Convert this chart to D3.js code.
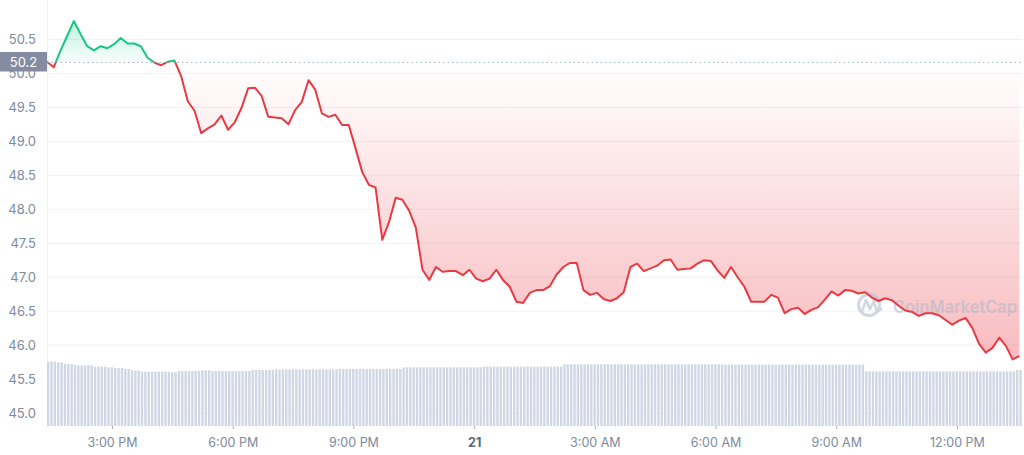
<!DOCTYPE html>
<html><head><meta charset="utf-8">
<script src="https://cdn.jsdelivr.net/npm/d3@7"></script>
<style>body{margin:0;background:#fff}svg{display:block;font-family:Inter,"Noto Sans",sans-serif}</style>
</head><body><svg id="c" width="1024" height="455"></svg>
<script>
// ---- data ----
const startTime = "2023-01-20T13:23:00";
const endTime = "2023-01-21T13:37:00";
const priceStepMinutes = 10;
const prices = [
50.17,50.09,50.33,50.55,50.77,50.58,50.40,50.34,50.40,50.37,
50.43,50.52,50.44,50.44,50.40,50.23,50.16,50.12,50.17,50.19,
49.96,49.59,49.45,49.12,49.19,49.25,49.38,49.17,49.28,49.49,
49.78,49.79,49.67,49.36,49.35,49.34,49.25,49.46,49.58,49.90,
49.76,49.41,49.36,49.39,49.24,49.24,48.90,48.55,48.36,48.32,
47.55,47.81,48.17,48.14,47.98,47.73,47.11,46.96,47.15,47.08,
47.09,47.09,47.03,47.11,46.98,46.94,46.98,47.11,46.96,46.86,
46.64,46.62,46.77,46.81,46.81,46.87,47.04,47.15,47.21,47.21,
46.81,46.74,46.77,46.68,46.65,46.69,46.78,47.15,47.20,47.09,
47.13,47.17,47.25,47.26,47.11,47.12,47.13,47.20,47.25,47.24,
47.10,46.99,47.15,47.00,46.86,46.64,46.64,46.64,46.74,46.70,
46.47,46.53,46.55,46.46,46.52,46.56,46.67,46.79,46.73,46.81,
46.80,46.76,46.78,46.70,46.65,46.69,46.66,46.58,46.51,46.49,
46.43,46.47,46.47,46.44,46.37,46.30,46.36,46.40,46.25,46.02,
45.89,45.96,46.11,45.99,45.79,45.84
];
const volumeStepMinutes = 5;
const volumes = [
96.5,96.5,96.5,95.5,95.5,93,93,93,91,91,
91,91,91,91,89,89,89,89,88,88,
87,87,87,85.5,85.5,83.5,83.5,83.5,81.5,81.5,
81.5,81.5,81.5,81.5,81.5,81.5,81.5,80.5,80.5,82.5,
82.5,82.5,82.5,82.5,82.5,82.5,83.5,83.5,83.5,82.5,
82.5,82.5,82.5,82.5,82.5,82.5,82.5,82.5,82.5,82.5,
82.5,84,84,84,84,84,84,84,85,85,
85,85,85,85,85,85,85,85,85,85,
85,85,85,85,85,85,85,85.5,85.5,85.5,
85.5,85.5,85.5,85.5,85.5,85.5,85.5,85.5,85.5,85.5,
85.5,85.5,85.5,85.5,85.5,85.5,88,88,88,88,
88,88,88,88,88,88,88,88,88,88,
88,88,88,88,88,88,88,88,88,88,
89,89,89,89,89,89,89,89,89,89,
89,89,89,89,89,89,89,89,89,89,
89,89,89,89,92.5,92.5,92.5,92.5,92.5,92.5,
92.5,92.5,92.5,92.5,92.5,92.5,92.5,92.5,92.5,92.5,
92.5,92.5,92.5,92.5,92.5,92.5,92.5,92.5,92.5,92.5,
92.5,92.5,92.5,92.5,92.5,92.5,92.5,92.5,92.5,92.5,
92.5,92.5,92.5,92.5,92.5,92.5,92.5,92.5,92.5,92.5,
92.5,92,92,92,92,92,92,92,92,92,
92,92,92,92,92,92,92,92,92,92,
92,92,92,92,92,92,92,92,92,92,
92,92,92,92,92,92,92,92,92,92,
92,92,92,92,82,82,82,82,82,82,
82,82,82,82,82,82,82,82,82,82,
82,82,82,82,82,82,82,82,82,82,
82,82,82,82,82,82,82,82,82,82,
82,82,82,82,82,82,82,82,82,84,
84
];
const referencePrice = 50.16;
const referenceLabel = "50.2";
const yTickValues = [45.0,45.5,46.0,46.5,47.0,47.5,48.0,48.5,49.0,49.5,50.0,50.5];
const yDomain = [44.81, 51.08];
const volumeDomain = [0, 150];
const xTickTimes = ["2023-01-20T15:00:00","2023-01-20T18:00:00","2023-01-20T21:00:00","2023-01-21T00:00:00",
                    "2023-01-21T03:00:00","2023-01-21T06:00:00","2023-01-21T09:00:00","2023-01-21T12:00:00"];
const xTickLabels = ["3:00 PM","6:00 PM","9:00 PM","21","3:00 AM","6:00 AM","9:00 AM","12:00 PM"];
const boldTickLabels = ["21"];

// ---- layout ----
const L = 47, R = 1022, T = 0, B = 426;
const RED = "#ea3943", GREEN = "#16c784";
const svg = d3.select("#c");
const t0 = new Date(startTime), t1 = new Date(endTime);
const x = d3.scaleTime().domain([t0, t1]).range([L, R]);
const y = d3.scaleLinear().domain(yDomain).range([B, T]);
const yVol = d3.scaleLinear().domain(volumeDomain).range([B, B - 100]);
const minute = 60000;
const priceData = prices.map((v, i) => ({t: new Date(+t0 + i * priceStepMinutes * minute), v}));
const volData = volumes.map((v, i) => ({t: new Date(+t0 + i * volumeStepMinutes * minute), v}));
const yRef = y(referencePrice);

const defs = svg.append("defs");
const gRed = defs.append("linearGradient").attr("id", "gRed").attr("gradientUnits", "userSpaceOnUse")
  .attr("x1", 0).attr("x2", 0).attr("y1", yRef).attr("y2", B);
gRed.append("stop").attr("offset", 0).attr("stop-color", RED).attr("stop-opacity", 0.0);
gRed.append("stop").attr("offset", 1).attr("stop-color", RED).attr("stop-opacity", 0.42);
const gGreen = defs.append("linearGradient").attr("id", "gGreen").attr("gradientUnits", "userSpaceOnUse")
  .attr("x1", 0).attr("x2", 0).attr("y1", 15).attr("y2", yRef);
gGreen.append("stop").attr("offset", 0).attr("stop-color", GREEN).attr("stop-opacity", 0.3);
gGreen.append("stop").attr("offset", 1).attr("stop-color", GREEN).attr("stop-opacity", 0.03);
defs.append("clipPath").attr("id", "above").append("rect").attr("x", 0).attr("y", 0).attr("width", 1024).attr("height", yRef);
defs.append("clipPath").attr("id", "below").append("rect").attr("x", 0).attr("y", yRef).attr("width", 1024).attr("height", 455 - yRef);

// gridlines
svg.append("g").selectAll("line").data(yTickValues).join("line")
  .attr("x1", L).attr("x2", R).attr("y1", d => y(d)).attr("y2", d => y(d))
  .attr("stroke", "#eff2f5").attr("stroke-width", 1);
svg.append("line").attr("x1", L + 0.5).attr("x2", L + 0.5).attr("y1", 0).attr("y2", B)
  .attr("stroke", "#eff2f5");

// volume bars
svg.append("g").selectAll("rect").data(volData).join("rect")
  .attr("x", d => x(d.t))
  .attr("width", d => Math.max(0.5, x(new Date(+d.t + volumeStepMinutes * minute)) - x(d.t) - 1))
  .attr("y", d => yVol(d.v))
  .attr("height", d => B - yVol(d.v))
  .attr("fill", "#d0d6e3");

// areas
const area = d3.area().x(d => x(d.t)).y0(yRef).y1(d => y(d.v));
svg.append("path").datum(priceData).attr("d", area).attr("fill", "url(#gGreen)").attr("clip-path", "url(#above)");
svg.append("path").datum(priceData).attr("d", area).attr("fill", "url(#gRed)").attr("clip-path", "url(#below)");

// reference dotted line
svg.append("line").attr("x1", L).attr("x2", R).attr("y1", yRef).attr("y2", yRef)
  .attr("stroke", "#a7b1c6").attr("stroke-width", 1).attr("stroke-dasharray", "1.5,3");

// watermark
const wm = svg.append("g").attr("opacity", 0.55);
wm.append("circle").attr("cx", 869).attr("cy", 305).attr("r", 10.5).attr("fill", "none")
  .attr("stroke", "#aeb8cc").attr("stroke-width", 3);
wm.append("path").attr("d", "M862,311 L866,300 L870,309 L874,301 L876,309 Q879,312 882,308")
  .attr("fill", "none").attr("stroke", "#aeb8cc").attr("stroke-width", 2.6).attr("stroke-linejoin", "round");
wm.append("text").attr("x", 893).attr("y", 313).attr("font-size", 17).attr("font-weight", 600)
  .attr("fill", "#aeb8cc").attr("textLength", 124).attr("lengthAdjust", "spacingAndGlyphs").text("CoinMarketCap");

// price line
const line = d3.line().x(d => x(d.t)).y(d => y(d.v));
svg.append("path").datum(priceData).attr("d", line).attr("fill", "none").attr("stroke", GREEN)
  .attr("stroke-width", 2).attr("stroke-linejoin", "round").attr("clip-path", "url(#above)");
svg.append("path").datum(priceData).attr("d", line).attr("fill", "none").attr("stroke", RED)
  .attr("stroke-width", 2).attr("stroke-linejoin", "round").attr("clip-path", "url(#below)");

// y axis
const yAxis = svg.append("g").attr("transform", `translate(${L},0)`)
  .call(d3.axisLeft(y).tickValues(yTickValues).tickFormat(d3.format(".1f")).tickSize(0).tickPadding(11));
yAxis.select(".domain").remove();
yAxis.selectAll("text").attr("font-size", 13).attr("fill", "#808a9d").attr("font-family", "Inter, sans-serif");

// reference label
svg.append("rect").attr("x", 0).attr("y", yRef - 10.5).attr("width", L).attr("height", 19.5).attr("fill", "#858ca2");
svg.append("text").attr("x", 23.5).attr("y", yRef).attr("dy", "0.36em").attr("text-anchor", "middle")
  .attr("font-size", 13).attr("fill", "#fff").text(referenceLabel);

// x axis
const tickDates = xTickTimes.map(s => new Date(s));
const xAxis = svg.append("g").attr("transform", `translate(0,${B})`)
  .call(d3.axisBottom(x).tickValues(tickDates).tickFormat((d, i) => xTickLabels[i]).tickSize(3).tickPadding(9));
xAxis.select(".domain").remove();
xAxis.selectAll("line").attr("stroke", "#a6b0c3");
xAxis.selectAll("text").attr("font-size", 12.5).attr("font-family", "Inter, sans-serif")
  .attr("fill", (d, i) => boldTickLabels.includes(xTickLabels[i]) ? "#58667e" : "#808a9d")
  .attr("font-weight", (d, i) => boldTickLabels.includes(xTickLabels[i]) ? 700 : 400);
</script></body></html>
